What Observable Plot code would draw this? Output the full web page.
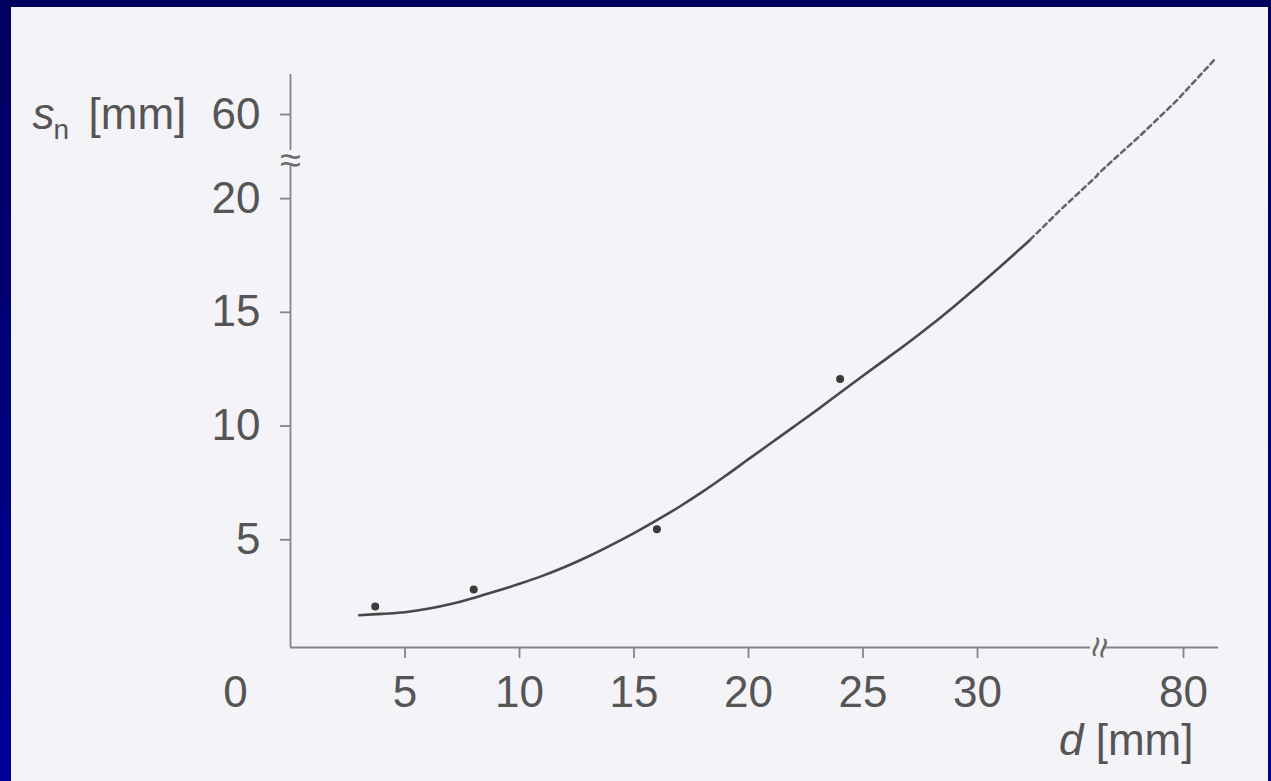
<!DOCTYPE html>
<html><head><meta charset="utf-8">
<script src="https://cdn.jsdelivr.net/npm/d3@7"></script>
<script src="https://cdn.jsdelivr.net/npm/@observablehq/plot@0.6"></script>
<style>
html,body{margin:0;padding:0;width:1271px;height:781px;overflow:hidden;}
body{background:linear-gradient(to bottom,#00005e,#000098);position:relative;}
#panel{position:absolute;left:11px;top:7px;right:3px;bottom:0;background:#f3f3f8;}
#chart{position:absolute;left:0;top:0;}
</style></head><body><div id="panel"></div><div id="chart"></div>
<script>
// ---- data ----
const xTicks = [5, 10, 15, 20, 25, 30, 80];
const yTicks = [5, 10, 15, 20, 60];
const originTick = [0];
const xBreak = [35.24, 76.24];   // axis break on d
const yBreak = [21.5, 57.8];     // axis break on s_n
const xMax = 81.53;
const yMax = 61.5;

// measured points
const pointD = [3.7, 8.0, 16.0, 24.0];
const pointS = [1.8, 2.55, 5.2, 11.8];

// fitted curve (solid part)
const solidD = [3, 4, 5, 6, 7, 8, 9, 10, 11, 12, 13, 14, 15, 16, 17, 18, 19, 20, 21, 22, 23, 24, 25, 26, 27, 28, 29, 30, 31, 32, 32.3];
const solidS = [1.42, 1.48, 1.55, 1.70, 1.91, 2.18, 2.48, 2.80, 3.15, 3.55, 4.00, 4.50, 5.03, 5.60, 6.20, 6.85, 7.55, 8.28, 9.00, 9.72, 10.45, 11.20, 11.95, 12.68, 13.42, 14.20, 15.02, 15.87, 16.75, 17.65, 17.93];

// extrapolated curve (dashed part, across the axis breaks)
const dashD = [32.3, 33.6, 35.24, 76.24, 77.0, 77.0, 78.1, 79.7, 81.4];
const dashS = [17.93, 19.22, 20.76, 20.8, 21.5, 57.8, 58.8, 60.35, 62.2];

const points = pointD.map((d, i) => ({d, s: pointS[i]}));
const solid = solidD.map((d, i) => ({d, s: solidS[i]}));
const dashed = dashD.map((d, i) => ({d, s: dashS[i]}));

const axisColor = "#858585";
const textColor = "#555";
const font = "'Liberation Sans', Arial, Helvetica, sans-serif";

const chart = Plot.plot({
  width: 1271,
  height: 781,
  marginLeft: 290,
  marginRight: 53,
  marginTop: 74,
  marginBottom: 134,
  style: {background: "transparent", fontFamily: font, fontSize: "44px", color: textColor, overflow: "visible"},
  x: {type: "linear", domain: [0, xBreak[0], xBreak[1], xMax], range: [290, 1097, 1097, 1218], axis: null, label: null},
  y: {type: "linear", domain: [0, yBreak[0], yBreak[1], yMax], range: [647, 158, 158, 74], axis: null, label: null},
  marks: [
    // axis lines with breaks
    Plot.ruleY([0], {x1: 0, x2: xBreak[0] - 0.3, stroke: axisColor, strokeWidth: 1.8}),
    Plot.ruleY([0], {x1: xBreak[1] + 0.25, x2: xMax, stroke: axisColor, strokeWidth: 1.8}),
    Plot.ruleX([0], {y1: 0, y2: yBreak[0] - 0.35, stroke: axisColor, strokeWidth: 1.8}),
    Plot.ruleX([0], {y1: yBreak[1] + 0.35, y2: yMax, stroke: axisColor, strokeWidth: 1.8}),
    // break symbols
    Plot.text([{d: 0, s: yBreak[0]}], {x: "d", y: "s", text: () => "≈", fontSize: 38, fill: "#6a6a6a", dy: 2}),
    Plot.text([{d: xBreak[0], s: 0}], {x: "d", y: "s", text: () => "≈", fontSize: 38, rotate: 100, fill: "#6a6a6a", dx: 2}),
    // axes
    Plot.axisX(xTicks, {anchor: "bottom", tickSize: 11, tickPadding: 17, stroke: axisColor, strokeWidth: 1.8, fill: textColor, fontSize: 44, label: null, tickFormat: d => String(d)}),
    Plot.axisX(originTick, {anchor: "bottom", tickSize: 0, tickPadding: 28, dx: -55, fill: textColor, fontSize: 44, label: null, tickFormat: d => String(d)}),
    Plot.axisY(yTicks, {anchor: "left", tickSize: 10, tickPadding: 20, dy: 6, stroke: axisColor, strokeWidth: 1.8, fill: textColor, fontSize: 44, label: null, tickFormat: d => String(d)}),
    // axis titles
    Plot.text([{d: 0, s: 60}], {x: "d", y: "s", text: () => "s", dx: -258, dy: 20, textAnchor: "start", lineAnchor: "bottom", fontStyle: "italic", fontSize: 44, fill: textColor}),
    Plot.text([{d: 0, s: 60}], {x: "d", y: "s", text: () => "n", dx: -237, dy: 30, textAnchor: "start", lineAnchor: "bottom", fontSize: 28, fill: textColor}),
    Plot.text([{d: 0, s: 60}], {x: "d", y: "s", text: () => "[mm]", dx: -202, dy: 20, textAnchor: "start", lineAnchor: "bottom", fontSize: 44, fill: textColor}),
    Plot.text([{d: 80, s: 0}], {x: "d", y: "s", text: () => "d", dx: -100, dy: 107, textAnchor: "end", lineAnchor: "bottom", fontStyle: "italic", fontSize: 44, fill: textColor}),
    Plot.text([{d: 80, s: 0}], {x: "d", y: "s", text: () => "[mm]", dx: 10, dy: 107, textAnchor: "end", lineAnchor: "bottom", fontSize: 44, fill: textColor}),
    // curve
    Plot.line(solid, {x: "d", y: "s", curve: "catmull-rom", stroke: "#484848", strokeWidth: 2.6}),
    Plot.line(dashed, {x: "d", y: "s", curve: "linear", stroke: "#666", strokeWidth: 2.6, strokeDasharray: "5,4"}),
    // measured points
    Plot.dot(points, {x: "d", y: "s", r: 4, fill: "#3a3a3a", stroke: "none"})
  ]
});
document.getElementById("chart").appendChild(chart);
</script>
</body></html>
